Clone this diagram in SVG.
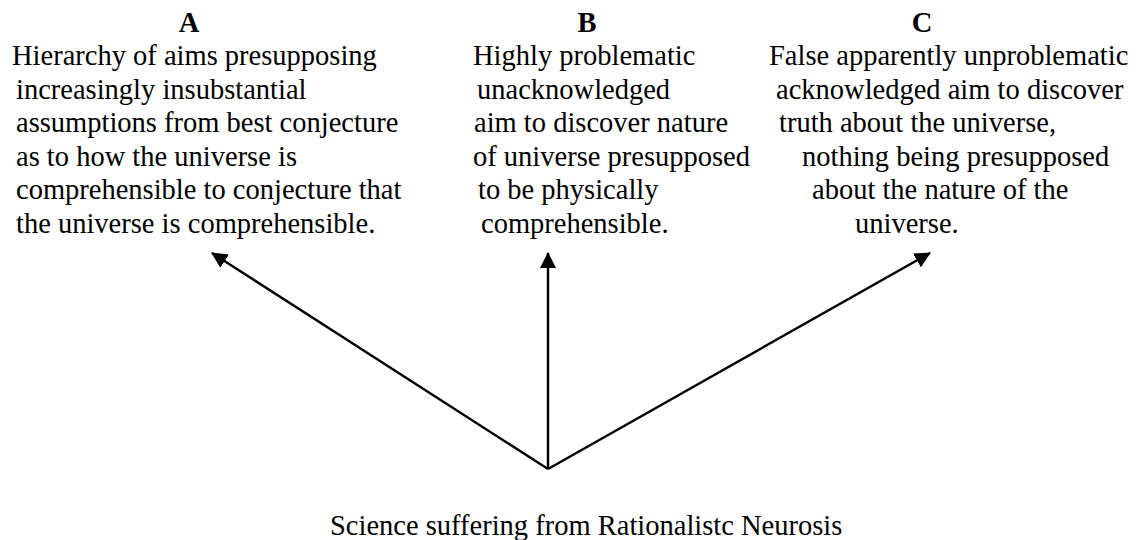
<svg xmlns="http://www.w3.org/2000/svg" width="1148" height="540" viewBox="0 0 1148 540">
  <style>
    text { font-family: "Liberation Serif", "Times New Roman", serif; font-size: 28.5px; fill: #000; }
    .head { font-weight: bold; text-anchor: middle; }
    .conn { stroke: #000; stroke-width: 2.4; fill: none; }
  </style>
  <defs>
    <marker id="arrow" viewBox="0 0 16 16" refX="15" refY="8" markerWidth="16" markerHeight="16" markerUnits="userSpaceOnUse" orient="auto">
      <path d="M0,0 L16,8 L0,16 Z" fill="#000"/>
    </marker>
  </defs>
  <rect width="1148" height="540" fill="#fff"/>

  <g id="node-a">
    <text class="head" x="189" y="32">A</text>
    <text x="12" y="65">Hierarchy of aims presupposing</text>
    <text x="16" y="98.5">increasingly insubstantial</text>
    <text x="16" y="132">assumptions from best conjecture</text>
    <text x="16" y="165.5">as to how the universe is</text>
    <text x="16" y="199">comprehensible to conjecture that</text>
    <text x="16" y="232.5">the universe is comprehensible.</text>
  </g>

  <g id="node-b">
    <text class="head" x="587" y="32">B</text>
    <text x="473" y="65">Highly problematic</text>
    <text x="477" y="98.5">unacknowledged</text>
    <text x="474" y="132">aim to discover nature</text>
    <text x="473" y="165.5">of universe presupposed</text>
    <text x="478" y="199">to be physically</text>
    <text x="481" y="232.5">comprehensible.</text>
  </g>

  <g id="node-c">
    <text class="head" x="922" y="32">C</text>
    <text x="769" y="65">False apparently unproblematic</text>
    <text x="776" y="98.5">acknowledged aim to discover</text>
    <text x="779" y="132">truth about the universe,</text>
    <text x="802" y="165.5">nothing being presupposed</text>
    <text x="812" y="199">about the nature of the</text>
    <text x="855" y="232.5">universe.</text>
  </g>

  <g id="node-root">
    <text x="330" y="535">Science suffering from Rationalistc Neurosis</text>
  </g>

  <g id="connectors">
    <line class="conn" x1="548" y1="469" x2="212" y2="253" marker-end="url(#arrow)"/>
    <line class="conn" x1="548" y1="469" x2="548" y2="253" marker-end="url(#arrow)"/>
    <line class="conn" x1="548" y1="469" x2="930" y2="253" marker-end="url(#arrow)"/>
  </g>
</svg>
